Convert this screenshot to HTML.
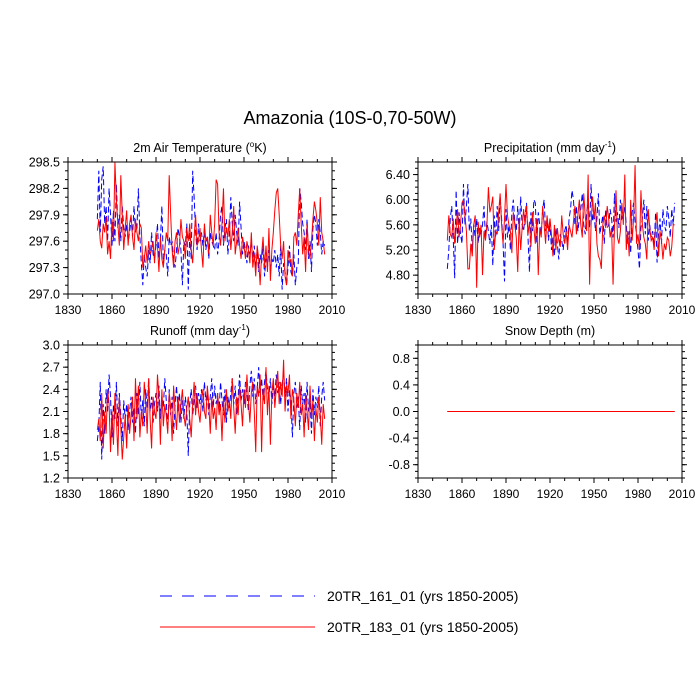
<!DOCTYPE html>
<html><head><meta charset="utf-8">
<style>
html,body{margin:0;padding:0;background:#fff;}
svg{display:block;font-family:"Liberation Sans",sans-serif;}
</style></head>
<body>
<svg id="chart" width="700" height="700" viewBox="0 0 700 700">
<rect width="700" height="700" fill="#fff"/>
<text x="350" y="124" text-anchor="middle" font-size="18">Amazonia (10S-0,70-50W)</text>
<g id="plots"></g>
<g>
<line x1="160" y1="596" x2="315" y2="596" stroke="#00f" stroke-width="1" stroke-dasharray="12,10"/>
<text x="327" y="601" font-size="14">20TR_161_01 (yrs 1850-2005)</text>
<line x1="160" y1="627" x2="315" y2="627" stroke="#f00" stroke-width="1"/>
<text x="327" y="632" font-size="14">20TR_183_01 (yrs 1850-2005)</text>
</g>
</svg>
<script>
const startYear = 1850;
const tempRed = [297.72,297.85,297.60,297.52,297.80,297.70,297.88,297.45,297.60,297.40,
297.85,297.60,298.50,298.05,297.80,297.55,298.35,297.90,297.50,297.75,
297.95,297.55,297.80,297.90,297.65,297.50,297.85,297.70,297.60,297.80,
297.75,297.30,297.40,297.55,297.35,297.60,297.45,297.50,297.60,297.35,
297.70,297.55,297.25,297.65,297.40,297.30,297.50,297.70,297.60,298.35,
297.90,297.50,297.30,297.60,297.70,297.45,297.55,297.85,297.65,297.60,
297.40,297.75,297.60,297.80,297.50,297.35,297.65,297.90,297.55,297.60,
297.75,297.50,297.30,297.80,297.60,297.65,297.45,297.90,297.70,297.55,
297.80,298.30,298.25,297.70,297.55,297.80,298.20,297.60,297.75,297.65,
297.85,297.50,297.70,298.00,297.45,297.60,297.75,297.55,297.40,297.65,
297.55,297.40,297.60,297.50,297.35,297.70,297.30,297.45,297.20,297.55,
297.40,297.10,297.45,297.65,297.30,297.55,297.25,297.75,297.15,297.50,
297.70,297.95,298.15,298.20,297.90,297.55,297.40,297.60,297.20,297.10,
297.50,297.35,297.40,297.20,297.65,297.70,297.55,297.90,298.20,297.80,
297.45,297.65,297.25,297.80,297.50,297.40,297.60,297.85,298.05,297.95,
297.80,297.55,298.10,297.70,297.60,297.45];
const tempBlue = [297.85,298.40,297.70,298.30,298.45,297.80,298.00,297.60,298.20,297.90,
297.55,297.95,297.60,298.25,297.75,297.90,297.60,298.00,297.75,297.65,
297.80,297.60,297.70,297.85,297.65,298.00,297.70,297.75,298.20,297.65,
297.35,297.10,297.45,297.30,297.20,297.50,297.35,297.70,297.45,297.40,
297.55,297.80,297.40,297.60,298.00,297.35,297.50,297.45,297.20,297.65,
297.55,297.60,297.40,297.30,297.50,297.75,297.65,297.50,297.10,297.60,
297.55,297.80,297.05,297.70,297.40,298.40,298.10,297.70,297.50,297.80,
297.60,297.70,297.55,297.75,297.50,297.65,297.40,297.70,297.60,297.55,
297.50,297.70,297.45,297.60,297.90,298.00,297.55,297.75,297.85,297.45,
297.65,298.10,297.80,297.60,297.90,297.70,297.55,298.05,297.75,297.45,
297.60,297.50,297.35,297.55,297.45,297.60,297.40,297.55,297.30,297.50,
297.25,297.45,297.35,297.55,297.20,297.40,297.30,297.50,297.25,297.40,
297.35,297.50,297.30,297.45,297.20,297.55,297.05,297.35,297.25,297.10,
297.30,297.55,297.25,297.20,297.45,297.10,297.30,297.35,298.20,298.05,
297.80,297.70,297.50,297.85,297.40,297.60,297.25,297.75,297.90,297.80,
297.55,297.85,297.70,297.45,297.60,297.55];
const precRed = [5.35,5.75,5.45,5.40,5.70,5.30,5.55,5.85,5.40,5.60,
5.95,6.00,5.75,5.50,4.90,4.90,5.30,5.10,5.60,5.75,
4.60,5.65,5.40,5.60,4.80,5.50,5.35,5.60,6.20,5.80,
5.90,6.05,5.20,5.50,5.45,5.80,6.10,5.60,5.30,5.70,
6.25,5.75,5.60,5.50,5.15,5.80,5.60,5.40,4.85,5.70,
5.20,5.55,5.85,5.60,5.90,5.45,5.65,5.25,5.80,5.55,
5.30,5.70,4.80,5.55,5.40,5.90,5.60,5.30,5.75,5.50,
5.70,5.45,5.10,5.60,5.20,5.55,5.35,5.25,5.75,5.45,
5.30,5.50,5.20,5.60,5.50,5.40,5.65,5.90,5.45,5.75,
6.00,5.60,5.40,6.10,5.75,5.50,6.40,4.65,5.60,6.05,
5.70,5.95,5.30,5.10,5.05,4.90,5.60,5.75,5.55,5.90,
5.70,5.40,5.55,4.65,5.60,6.15,5.40,5.30,5.50,5.95,
5.60,6.40,5.20,5.50,5.10,6.00,5.35,5.70,6.55,5.30,
5.45,5.20,6.15,5.60,5.40,5.30,5.05,5.85,5.55,5.35,
5.40,5.20,5.60,5.80,5.10,5.50,5.35,5.05,5.30,5.20,
5.40,5.35,5.10,5.25,5.60,5.60];
const precBlue = [4.90,5.20,5.70,5.90,5.40,4.75,6.15,5.30,5.80,5.45,
5.30,6.25,5.60,5.90,6.25,5.50,5.70,5.20,5.60,5.40,
5.70,5.30,5.55,5.45,5.60,5.90,5.40,5.65,5.50,5.30,
5.60,4.95,5.75,5.40,5.90,5.50,6.05,5.70,5.30,4.70,
5.85,5.40,5.60,5.20,5.80,6.00,5.65,5.50,5.90,5.45,
6.05,5.60,5.50,5.75,5.95,5.40,4.85,5.80,5.50,6.00,
5.95,5.30,5.80,5.60,5.45,5.85,6.00,5.50,5.70,5.35,
5.65,5.20,5.40,5.10,5.55,5.30,5.05,5.45,5.35,5.20,
5.50,5.60,5.30,5.70,5.85,6.15,6.00,5.60,5.90,5.50,
5.70,5.85,6.10,5.60,5.45,5.80,5.95,5.55,6.25,5.65,
5.80,5.50,5.70,6.10,5.45,5.60,5.75,5.30,5.85,5.55,
5.60,5.85,5.70,5.40,6.10,5.65,5.80,5.55,6.00,5.70,
5.75,5.90,5.60,5.30,5.50,5.15,5.80,5.95,5.65,5.45,
5.20,4.90,5.55,5.70,6.00,5.45,5.90,5.35,5.60,5.40,
5.50,5.25,5.80,5.00,5.45,5.70,5.30,5.85,5.60,5.50,
5.90,5.70,5.40,5.85,5.60,5.95];
const runRed = [1.85,2.00,1.70,2.35,1.60,2.10,1.80,2.40,2.20,1.55,
2.10,1.65,2.35,2.00,1.50,2.30,1.90,1.45,1.75,2.05,
1.60,2.20,1.80,2.05,2.30,1.70,2.55,2.00,2.45,1.75,
2.10,1.90,2.50,2.20,1.80,2.55,2.00,1.60,2.30,2.10,
2.00,2.60,2.30,1.65,2.40,1.90,2.20,2.05,1.80,2.35,
2.15,1.70,2.45,2.10,1.85,2.30,1.95,2.20,2.40,2.05,
1.90,2.15,2.30,2.00,1.75,2.20,2.50,2.05,2.35,2.10,
1.95,2.25,2.40,2.10,2.00,2.45,2.20,1.80,2.30,2.00,
2.15,1.85,2.35,2.05,2.20,1.70,2.30,1.95,2.40,2.10,
2.25,2.00,2.55,2.15,1.80,2.30,2.05,2.45,2.20,1.90,
2.40,2.15,2.60,2.25,1.95,2.35,2.50,2.10,1.55,2.45,
2.30,2.60,1.55,2.40,2.20,2.70,2.05,2.45,1.65,2.35,
2.55,2.15,2.40,2.65,2.20,2.50,2.30,2.80,2.10,2.45,
2.35,2.60,2.00,2.40,2.25,1.90,2.35,2.15,2.50,2.05,
2.20,1.75,2.35,2.10,1.85,2.45,2.00,2.25,1.70,2.15,
1.95,2.30,2.05,1.65,2.20,2.00];
const runBlue = [1.70,1.90,2.50,1.45,2.20,1.80,2.40,2.10,2.60,2.30,
1.75,2.20,2.00,2.50,1.90,2.35,2.05,1.70,2.25,2.00,
2.20,1.85,2.10,2.30,1.95,2.15,1.80,2.35,2.05,2.50,
2.00,2.25,1.90,2.40,2.15,2.55,2.10,2.30,1.95,2.20,
2.35,2.10,2.45,2.00,2.30,2.15,2.55,2.25,1.85,2.40,
2.05,2.30,1.80,2.20,2.45,2.10,2.35,1.95,2.25,2.00,
2.30,2.10,1.50,2.20,2.40,2.05,2.25,2.45,2.15,2.35,
2.20,2.40,2.10,2.50,2.25,2.35,2.05,2.30,2.55,2.15,
2.45,2.20,2.35,2.10,2.50,2.25,2.05,2.40,1.95,2.30,
2.15,2.35,2.55,2.20,2.45,2.05,2.30,2.60,2.25,2.40,
2.20,2.50,2.35,2.10,2.45,2.65,2.30,2.55,2.20,2.40,
2.70,2.35,2.55,2.25,2.50,2.65,2.40,2.30,2.55,2.20,
2.45,2.30,2.60,2.35,2.50,2.20,2.45,2.65,2.30,2.55,
2.10,2.40,2.25,1.75,2.35,2.50,2.15,2.30,1.85,2.45,
2.20,2.35,1.95,2.50,2.10,2.25,1.80,2.40,2.05,2.30,
2.15,2.45,1.90,2.30,2.50,2.25];
const snowRed = new Array(156).fill(0);
const snowBlue = new Array(156).fill(0);
const xTicks = [1830,1860,1890,1920,1950,1980,2010];
const tempTicks = ["297.0","297.3","297.6","297.9","298.2","298.5"];
const precTicks = ["4.80","5.20","5.60","6.00","6.40"];
const runTicks = ["1.2","1.5","1.8","2.1","2.4","2.7","3.0"];
const snowTicks = ["-0.8","-0.4","0.0","0.4","0.8"];

const NS="http://www.w3.org/2000/svg";
const root=document.getElementById('plots');
function mk(tag,attrs,parent){const e=document.createElementNS(NS,tag);for(const k in attrs)e.setAttribute(k,attrs[k]);parent.appendChild(e);return e;}

const panels=[
 {name:'temperature',title:'2m Air Temperature (<sup>o</sup>K)',tt:['2m Air Temperature (','o','K)'],x0:68,x1:332,y0:162,y1:294,ymin:297.0,ymax:298.5,ticks:tempTicks,minor:0.1,red:tempRed,blue:tempBlue},
 {name:'precipitation',tt:['Precipitation (mm day','-1',')'],x0:418,x1:682,y0:162,y1:294,ymin:4.5,ymax:6.6,ticks:precTicks,minor:0.1,red:precRed,blue:precBlue},
 {name:'runoff',tt:['Runoff (mm day','-1',')'],x0:68,x1:332,y0:345,y1:478,ymin:1.2,ymax:3.0,ticks:runTicks,minor:0.1,red:runRed,blue:runBlue},
 {name:'snow-depth',tt:['Snow Depth (m)','',''],x0:418,x1:682,y0:345,y1:478,ymin:-1,ymax:1,ticks:snowTicks,minor:0.1,red:snowRed,blue:snowBlue}
];

panels.forEach(p=>{
 const g=mk('g',{},root);
 
 
 const xs=y=>p.x0+(y-1830)/180*(p.x1-p.x0);
 const ys=v=>p.y1-(v-p.ymin)/(p.ymax-p.ymin)*(p.y1-p.y0);
 // title
 const t=mk('text',{x:(p.x0+p.x1)/2,y:p.y0-10,'text-anchor':'middle','font-size':12.5},g);
 
 
 t.appendChild(document.createTextNode(p.tt[0]));
 if(p.tt[1]){const s=mk('tspan',{dy:-5,'font-size':8},t);s.textContent=p.tt[1];const s2=mk('tspan',{dy:5},t);s2.textContent=p.tt[2];}
 // series
 ['blue','red'].forEach(c=>{
  const arr=p[c];
  const pts=arr.map((v,i)=>xs(startYear+i).toFixed(2)+','+ys(v).toFixed(2)).join(' ');
  const pl=mk('polyline',{points:pts,fill:'none',stroke:c==='red'?'#f00':'#00f','stroke-width':1,'stroke-dasharray':c==='blue'?'6,3':'none'},g);
  
  
 });
 // frame
 const fr=mk('rect',{x:p.x0,y:p.y0,width:p.x1-p.x0,height:p.y1-p.y0,fill:'none',stroke:'#000','stroke-width':1},g);
 
 
 // x ticks
 for(let yr=1830;yr<=2010;yr+=10){
  const x=xs(yr),maj=(yr-1830)%30===0,L=maj?5:3;
  mk('line',{x1:x,y1:p.y1,x2:x,y2:p.y1+L,stroke:'#000'},g);
  mk('line',{x1:x,y1:p.y0,x2:x,y2:p.y0-L,stroke:'#000'},g);
 }
 xTicks.forEach(yr=>{
  const lb=mk('text',{x:xs(yr),y:p.y1+20,'text-anchor':'middle','font-size':12},g);
  
  
  lb.textContent=yr;
 });
 // y minor ticks
 const n=Math.round((p.ymax-p.ymin)/p.minor);
 for(let i=0;i<=n;i++){
  const y=ys(p.ymin+i*p.minor);
  mk('line',{x1:p.x0,y1:y,x2:p.x0-3,y2:y,stroke:'#000'},g);
  mk('line',{x1:p.x1,y1:y,x2:p.x1+3,y2:y,stroke:'#000'},g);
 }
 p.ticks.forEach(s=>{
  const y=ys(parseFloat(s));
  mk('line',{x1:p.x0,y1:y,x2:p.x0-5,y2:y,stroke:'#000'},g);
  mk('line',{x1:p.x1,y1:y,x2:p.x1+5,y2:y,stroke:'#000'},g);
  const lb=mk('text',{x:p.x0-8,y:y+4.5,'text-anchor':'end','font-size':12.5},g);
  
  
  lb.textContent=s;
 });
});
</script>
</body></html>
